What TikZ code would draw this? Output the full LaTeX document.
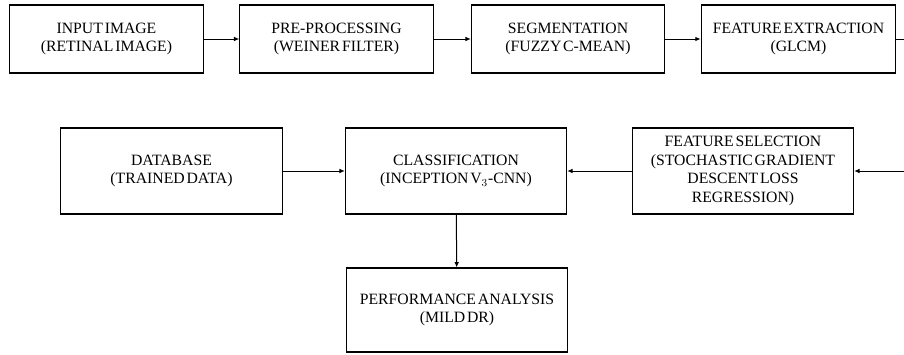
\documentclass[tikz,border=0pt]{standalone}
\usepackage{fontspec}
\setmainfont{Liberation Serif}
\usetikzlibrary{arrows.meta}
\newcommand\stagefont{\fontsize{11.8}{13.8}\selectfont\spaceskip=1.4pt plus 0.5pt\relax}
\tikzset{
  stage/.style={draw, line width=0.8pt, align=center, inner sep=2pt, font=\stagefont},
  flow/.style={-{Latex[length=4pt,width=3.5pt]}, line width=0.75pt}
}
\begin{document}
\begin{tikzpicture}[x=0.75pt, y=-0.75pt]
  \useasboundingbox (0,0) rectangle (904,354);
  % Nodes (top row, left to right)
  \node (input) at (106.5,39) [stage, minimum width=145pt, minimum height=51pt] {INPUT IMAGE\\(RETINAL IMAGE)};
  \node (pre) at (336.5,39) [stage, minimum width=145pt, minimum height=51pt] {PRE-PROCESSING\\(WEINER FILTER)};
  \node (seg) at (568,39) [stage, minimum width=145pt, minimum height=51pt] {SEGMENTATION\\(FUZZY C-MEAN)};
  \node (glcm) at (798.5,39) [stage, minimum width=146pt, minimum height=51pt] {FEATURE EXTRACTION\\(GLCM)};
  % Nodes (bottom rows)
  \node (db) at (171.5,171) [stage, minimum width=166pt, minimum height=64.5pt] {DATABASE\\(TRAINED DATA)};
  \node (cls) at (456,171) [stage, minimum width=166pt, minimum height=64.5pt] {CLASSIFICATION\\(INCEPTION V$_3$-CNN)};
  \node (sel) at (743,171) [stage, minimum width=166pt, minimum height=64.5pt] {FEATURE SELECTION\\(STOCHASTIC GRADIENT\\DESCENT LOSS\\REGRESSION)};
  \node (perf) at (457,310) [stage, minimum width=166pt, minimum height=63pt] {PERFORMANCE ANALYSIS\\(MILD DR)};
  % Loose ends at the right margin
  \coordinate (outR) at (904,39);
  \coordinate (inR) at (904,171);
  % Edges
  \draw[flow] (input) -- (pre);
  \draw[flow] (pre) -- (seg);
  \draw[flow] (seg) -- (glcm);
  \draw[line width=0.75pt] (glcm) -- (outR);
  \draw[flow] (inR) -- (sel);
  \draw[flow] (sel) -- (cls);
  \draw[flow] (db) -- (cls);
  \draw[flow] (cls) -- (perf);
\end{tikzpicture}
\end{document}
